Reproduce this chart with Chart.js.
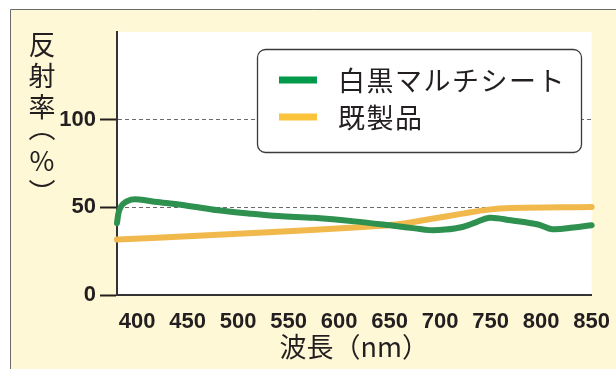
<!DOCTYPE html>
<html>
<head>
<meta charset="utf-8">
<script src="https://cdn.jsdelivr.net/npm/chart.js@4.4.0/dist/chart.umd.min.js"></script>
<style>
html, body { margin: 0; padding: 0; background: #fff; }
canvas { display: block; }
</style>
</head>
<body>
<canvas id="reflectChart" width="616" height="369"></canvas>
<script>
// series names (legend)
const seriesNames = ['白黒マルチシート', '既製品'];

// 白黒マルチシート : wavelength (nm) / reflectance (%)
const multiNm  = [380, 382, 386, 394, 402, 420, 448, 480, 510, 540, 575, 615, 656, 675, 689, 705, 722, 736, 749, 770, 797, 811, 832, 850];
const multiVal = [41, 48, 52, 54.4, 54.5, 53, 51.1, 48.3, 46.5, 45, 44, 42, 39.3, 38, 37, 37.3, 38.8, 41.6, 44.1, 42.6, 40.2, 37.5, 38.5, 39.8];

// 既製品
const kiseiNm  = [380, 450, 530, 615, 656, 689, 722, 748, 770, 819, 850];
const kiseiVal = [31.6, 33.5, 35.8, 38.5, 40.2, 43.2, 46.4, 48.7, 49.6, 50, 50.2];

const xTicks = [400, 450, 500, 550, 600, 650, 700, 750, 800, 850];
const yTicks = [0, 50, 100];
const yTitleChars = ['反', '射', '率', '︵', '%', '︶'];
const xTitle = '波長（nm）';

const CREAM = '#fff8d6';
const INK = '#231f20';
const JP_FONT = "'Noto Sans CJK JP', 'Noto Sans', sans-serif";
const NUM_FONT = "'Liberation Sans', Arial, sans-serif";

function toPoints(xs, ys) {
    return xs.map((x, i) => ({ x: x, y: ys[i] }));
}

// background : cream panel with border, white plot area
const panelBg = {
    id: 'panelBg',
    beforeDraw(chart) {
        const ctx = chart.ctx;
        const a = chart.chartArea;
        ctx.save();
        ctx.fillStyle = '#fff';
        ctx.fillRect(0, 0, chart.width, chart.height);
        ctx.fillStyle = CREAM;
        ctx.fillRect(10, 9, chart.width - 10, chart.height - 9);
        ctx.strokeStyle = '#6b6b6b';
        ctx.lineWidth = 1;
        ctx.beginPath();
        ctx.moveTo(10.5, chart.height);
        ctx.lineTo(10.5, 9.5);
        ctx.lineTo(chart.width, 9.5);
        ctx.stroke();
        ctx.fillStyle = '#fff';
        ctx.fillRect(a.left, a.top, a.right - a.left, a.bottom - a.top);
        ctx.restore();
    }
};

// boxed legend inside the plot + vertical y title
const boxLegend = {
    id: 'boxLegend',
    afterDatasetsDraw(chart) {
        const ctx = chart.ctx;
        ctx.save();
        ctx.beginPath();
        ctx.roundRect(257.5, 49.5, 324, 103, 8);
        ctx.fillStyle = '#fff';
        ctx.fill();
        ctx.strokeStyle = '#3a3a3a';
        ctx.lineWidth = 1.3;
        ctx.stroke();

        const rows = [80, 117];
        chart.data.datasets.forEach((ds, i) => {
            ctx.strokeStyle = ds.legendColor || ds.borderColor;
            ctx.lineWidth = 7;
            ctx.lineCap = 'butt';
            ctx.beginPath();
            ctx.moveTo(279, rows[i]);
            ctx.lineTo(317, rows[i]);
            ctx.stroke();
            ctx.fillStyle = INK;
            ctx.font = '27px ' + JP_FONT;
            ctx.letterSpacing = '1.5px';
            ctx.textAlign = 'left';
            ctx.textBaseline = 'middle';
            ctx.fillText(ds.label, 338, rows[i] + 1);
        });
        ctx.restore();
    },
    afterDraw(chart) {
        const ctx = chart.ctx;
        const ys = [45, 76, 107, 128, 161, 193];
        ctx.save();
        ctx.fillStyle = INK;
        ctx.font = '27px ' + JP_FONT;
        ctx.textAlign = 'center';
        ctx.textBaseline = 'middle';
        yTitleChars.forEach((c, i) => ctx.fillText(c, 42, ys[i]));
        ctx.restore();
    }
};

const reflectChart = new Chart(document.getElementById('reflectChart'), {
    type: 'line',
    data: {
        datasets: [
            {
                label: seriesNames[0],
                data: toPoints(multiNm, multiVal),
                borderColor: '#2e9150',
                legendColor: '#00994a',
                borderWidth: 6,
            },
            {
                label: seriesNames[1],
                data: toPoints(kiseiNm, kiseiVal),
                borderColor: '#f1b94c',
                legendColor: '#fcc43c',
                borderWidth: 6,
            },
        ],
    },
    options: {
        responsive: false,
        animation: false,
        devicePixelRatio: 1,
        layout: { padding: { top: 32, right: 18, left: 0, bottom: 0 } },
        elements: {
            point: { radius: 0 },
            line: { tension: 0.35, fill: false, borderCapStyle: 'round', borderJoinStyle: 'round' },
        },
        datasets: { line: { clip: false } },
        plugins: {
            legend: { display: false },
            tooltip: { enabled: false },
        },
        scales: {
            x: {
                type: 'linear',
                min: 380,
                max: 850,
                afterBuildTicks: (s) => { s.ticks = xTicks.map(v => ({ value: v })); },
                afterFit: (s) => { s.height = 74; },
                grid: { display: false },
                border: { display: true, color: '#333', width: 2 },
                ticks: {
                    color: INK,
                    padding: 6,
                    maxRotation: 0,
                    autoSkip: false,
                    font: { family: NUM_FONT, size: 22, weight: 'bold' },
                },
                title: {
                    display: true,
                    text: xTitle,
                    color: INK,
                    padding: { top: 0, bottom: 6 },
                    font: { family: JP_FONT, size: 27 },
                },
            },
            y: {
                min: 0,
                max: 150,
                afterBuildTicks: (s) => { s.ticks = yTicks.map(v => ({ value: v })); },
                afterFit: (s) => { s.width = 117; },
                grid: {
                    color: (c) => (c.tick && c.tick.value === 0 ? 'rgba(0,0,0,0)' : '#6a6a6a'),
                    lineWidth: 1,
                    tickLength: 17,
                    tickColor: '#231f20',
                    tickWidth: 2,
                    tickBorderDash: [],
                },
                border: { display: true, color: '#333', width: 2, dash: [4, 3] },
                ticks: {
                    color: INK,
                    padding: 4,
                    font: { family: NUM_FONT, size: 22, weight: 'bold' },
                },
            },
        },
    },
    plugins: [panelBg, boxLegend],
});
</script>
</body>
</html>
